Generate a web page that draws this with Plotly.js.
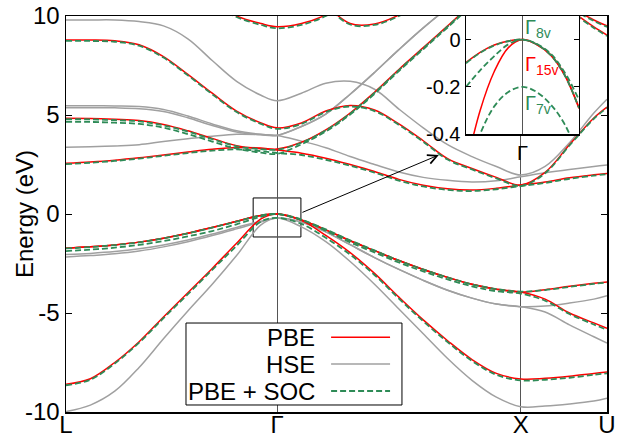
<!DOCTYPE html>
<html>
<head>
<meta charset="utf-8">
<script src="https://cdn.plot.ly/plotly-3.0.1.min.js"></script>
<style>
  html, body { margin: 0; padding: 0; background: #fff; }
  #plot { width: 628px; height: 435px; }
</style>
</head>
<body>
<div id="plot"></div>
<script>
// k-path L - Gamma - X - U (path length), shared by every band
var k = [0, 0.1, 0.2, 0.3, 0.4, 0.5, 0.6, 0.7, 0.8, 0.866,
         0.966, 1.066, 1.166, 1.266, 1.366, 1.466, 1.566, 1.666, 1.766, 1.866,
         1.966, 2.066, 2.166, 2.22];
var kTicks = [0, 0.866, 1.866, 2.22];
var kLabels = ["L", "Γ", "X", "U"];
var eTicks = [-10, -5, 0, 5, 10];
var eLabels = ["-10", "-5", "0", "5", "10"];

// PBE bands (eV)
var pbeV1 = [-8.6, -8.32, -7.5, -6.45, -5.2, -3.98, -2.75, -1.48, -0.25, 0, -0.32, -1.08, -1.95, -3.0, -4.2, -5.35, -6.4, -7.35, -8.05, -8.33, -8.3, -8.2, -8.05, -7.98];
var pbeV2 = [-1.73, -1.66, -1.56, -1.42, -1.22, -0.97, -0.68, -0.37, -0.07, 0, -0.3, -0.8, -1.35, -1.85, -2.35, -2.8, -3.2, -3.55, -3.8, -3.94, -3.82, -3.65, -3.5, -3.43];
var pbeV3 = [-1.73, -1.66, -1.56, -1.42, -1.22, -0.97, -0.68, -0.37, -0.07, 0, -0.3, -0.8, -1.35, -1.85, -2.35, -2.8, -3.2, -3.55, -3.8, -3.94, -4.3, -5.0, -5.5, -5.77];
var pbeC1 = [2.56, 2.63, 2.72, 2.84, 2.98, 3.13, 3.27, 3.36, 3.33, 3.23, 3.07, 2.82, 2.5, 2.15, 1.75, 1.45, 1.27, 1.21, 1.3, 1.46, 1.62, 1.83, 1.98, 2.05];
var pbeC2 = [4.83, 4.82, 4.78, 4.72, 4.52, 4.2, 3.82, 3.45, 3.3, 3.28, 3.62, 4.25, 5.1, 6.15, 7.3, 8.4, 9.5, 10.6, 11.5, 12.0, null, null, null, null];
var pbeC3 = [8.79, 8.79, 8.75, 8.55, 7.95, 7.05, 6.1, 5.2, 4.6, 4.35, 4.6, 5.2, 5.48, 5.25, 4.55, 3.7, 2.8, 2.3, 1.85, 1.46, 2.1, 3.5, 4.85, 5.4];
var pbeC4 = [null, null, null, null, null, null, 10.7, 10.0, 9.62, 9.46, 9.62, 10.05, 10.8, null, null, null, null, null, null, null, null, null, null, null];
var pbeC5 = [null, null, null, null, null, null, null, null, null, null, null, 10.6, 9.62, 9.6, 10.05, 10.8, null, null, null, null, null, null, null, null];
var pbeC6 = [null, null, null, null, null, null, null, null, null, null, null, null, null, null, null, null, null, null, null, 11.6, 11.0, 10.3, 9.45, 9.04];
var pbeC7 = [null, null, null, null, null, null, null, null, null, null, null, null, null, null, null, null, null, null, null, 12.2, 11.5, 10.5, 9.8, 9.5];

// HSE bands (eV)
var hseV1 = [-9.98, -9.65, -8.95, -7.75, -6.3, -4.9, -3.55, -2.1, -0.55, -0.2, -0.65, -1.4, -2.4, -3.55, -4.8, -6.05, -7.3, -8.4, -9.25, -9.73, -9.7, -9.6, -9.45, -9.3];
var hseV2 = [-2.05, -1.99, -1.9, -1.76, -1.56, -1.31, -1.01, -0.68, -0.36, -0.2, -0.4, -0.9, -1.55, -2.2, -2.8, -3.35, -3.85, -4.25, -4.55, -4.68, -4.65, -4.5, -4.3, -4.13];
var hseV3 = [-2.17, -2.1, -2.01, -1.87, -1.66, -1.4, -1.09, -0.75, -0.4, -0.2, -0.4, -0.9, -1.55, -2.2, -2.8, -3.35, -3.85, -4.25, -4.55, -4.68, -4.95, -5.6, -6.2, -6.52];
var hseC1 = [3.37, 3.4, 3.44, 3.5, 3.66, 3.8, 3.93, 4.03, 4.01, 3.97, 3.68, 3.35, 2.9, 2.5, 2.12, 1.85, 1.7, 1.62, 1.68, 1.88, 2.08, 2.25, 2.4, 2.47];
var hseC2 = [5.47, 5.47, 5.46, 5.43, 5.28, 4.95, 4.55, 4.2, 4.03, 3.98, 4.42, 5.05, 6.05, 7.15, 8.3, 9.4, 10.4, 11.3, null, null, null, null, null, null];
var hseC3 = [5.37, 5.37, 5.36, 5.32, 5.18, 4.86, 4.47, 4.14, 4.0, 3.97, 4.42, 5.05, 6.05, 7.15, 8.3, 9.4, 10.4, 11.3, null, null, null, null, null, null];
var hseC4 = [9.8, 9.8, 9.8, 9.72, 9.5, 8.85, 7.75, 6.7, 6.0, 5.72, 6.1, 6.6, 6.7, 6.3, 5.3, 4.35, 3.5, 2.9, 2.4, 1.97, 2.4, 3.6, 5.1, 5.8];

// PBE + SOC bands (eV)
var socV1 = [-8.65, -8.37, -7.55, -6.5, -5.26, -4.05, -2.82, -1.6, -0.38, -0.2, -0.5, -1.2, -2.05, -3.08, -4.27, -5.42, -6.47, -7.42, -8.12, -8.4, -8.37, -8.27, -8.12, -8.05];
var socV2 = [-1.74, -1.67, -1.57, -1.43, -1.23, -0.98, -0.69, -0.38, -0.07, 0, -0.3, -0.78, -1.33, -1.84, -2.35, -2.8, -3.2, -3.55, -3.79, -3.92, -3.84, -3.68, -3.53, -3.46];
var socV3 = [-1.87, -1.8, -1.7, -1.56, -1.37, -1.13, -0.86, -0.52, -0.14, 0, -0.28, -0.85, -1.43, -1.94, -2.45, -2.9, -3.3, -3.65, -3.9, -4.02, -4.38, -5.05, -5.58, -5.85];
var socC1 = [2.52, 2.59, 2.68, 2.8, 2.94, 3.08, 3.2, 3.26, 3.18, 3.08, 2.98, 2.74, 2.44, 2.09, 1.69, 1.39, 1.22, 1.16, 1.25, 1.41, 1.57, 1.78, 1.94, 2.01];
var socC2 = [4.79, 4.78, 4.74, 4.68, 4.48, 4.16, 3.78, 3.42, 3.28, 3.25, 3.6, 4.22, 5.07, 6.12, 7.27, 8.37, 9.47, 10.57, 11.47, 11.97, null, null, null, null];
var socC3 = [4.66, 4.65, 4.61, 4.55, 4.36, 4.04, 3.66, 3.3, 3.1, 3.04, 3.52, 4.17, 5.02, 6.07, 7.22, 8.32, 9.42, 10.52, 11.42, 11.92, null, null, null, null];
var socC4 = [8.74, 8.74, 8.7, 8.5, 7.9, 7.0, 6.05, 5.15, 4.55, 4.3, 4.55, 5.15, 5.43, 5.2, 4.5, 3.65, 2.75, 2.25, 1.8, 1.42, 2.06, 3.46, 4.81, 5.36];
var socC5 = [null, null, null, null, null, null, 10.65, 9.95, 9.55, 9.38, 9.55, 10.0, 10.75, null, null, null, null, null, null, null, null, null, null, null];
var socC6 = [null, null, null, null, null, null, null, null, null, null, null, 10.55, 9.57, 9.55, 10.0, 10.75, null, null, null, null, null, null, null, null];
var socC7 = [null, null, null, null, null, null, null, null, null, null, null, null, null, null, null, null, null, null, null, 11.55, 10.95, 10.25, 9.4, 8.99];
var socC8 = [null, null, null, null, null, null, null, null, null, null, null, null, null, null, null, null, null, null, null, 12.15, 11.45, 10.45, 9.75, 9.45];

// inset: valence top around Gamma
var kInset = [-0.1, -0.075, -0.05, -0.025, 0, 0.025, 0.05, 0.075, 0.1];
var insetPbe1 = [-0.097, -0.054, -0.023, -0.006, 0, -0.02, -0.064, -0.15, -0.288];
var insetPbe2 = [-0.54, -0.3, -0.135, -0.034, 0, -0.021, -0.066, -0.153, -0.292];
var insetSocHH = [-0.1, -0.056, -0.025, -0.007, 0, -0.02, -0.066, -0.152, -0.29];
var insetSocLH = [-0.2, -0.13, -0.07, -0.02, 0, -0.018, -0.06, -0.14, -0.255];
var insetSocSO = [-0.57, -0.4, -0.283, -0.222, -0.2, -0.222, -0.275, -0.36, -0.5];

var RED = "#ff0000", GRAY = "#a0a0a0", GREEN = "#2e8b57";
var DASH = "6px,3px";

function band(xs, ys, color, dash, width, xa, ya) {
  return {
    x: xs, y: ys, type: "scatter", mode: "lines",
    line: {color: color, width: width, dash: dash, shape: "spline"},
    xaxis: xa, yaxis: ya, showlegend: false, hoverinfo: "skip"
  };
}

var hse = [hseV1, hseV2, hseV3, hseC1, hseC2, hseC3, hseC4];
var pbe = [pbeV1, pbeV2, pbeV3, pbeC1, pbeC2, pbeC3, pbeC4, pbeC5, pbeC6, pbeC7];
var soc = [socV1, socV2, socV3, socC1, socC2, socC3, socC4, socC5, socC6, socC7, socC8];

var data = [];
hse.forEach(b => data.push(band(k, b, GRAY, "solid", 1.5, "x", "y")));
pbe.forEach(b => data.push(band(k, b, RED, "solid", 1.5, "x", "y")));
soc.forEach(b => data.push(band(k, b, GREEN, DASH, 1.8, "x", "y")));

[insetPbe1, insetPbe2].forEach(b => data.push(band(kInset, b, RED, "solid", 1.5, "x2", "y2")));
[insetSocHH, insetSocLH, insetSocSO].forEach(b => data.push(band(kInset, b, GREEN, DASH, 1.8, "x2", "y2")));

var font = {family: "Liberation Sans, Arial, sans-serif", size: 24, color: "#000"};

var layout = {
  width: 628, height: 435,
  margin: {l: 66, r: 21, t: 16, b: 23},
  paper_bgcolor: "#fff", plot_bgcolor: "#fff",
  font: font,
  showlegend: false,
  xaxis: {
    range: [0, 2.22], tickvals: kTicks, ticktext: kLabels, ticks: "",
    showgrid: true, gridcolor: "#555", gridwidth: 1, zeroline: false,
    showline: true, mirror: true, linecolor: "#000", linewidth: 1.5,
    tickfont: {size: 24}, ticklabelstandoff: -9
  },
  yaxis: {
    range: [-10, 10], tickvals: eTicks, ticktext: eLabels,
    ticks: "inside", ticklen: 6, tickcolor: "#000", mirror: "allticks",
    showgrid: false, zeroline: false,
    showline: true, linecolor: "#000", linewidth: 1.5,
    tickfont: {size: 24}
  },
  xaxis2: {
    domain: [0.7394, 0.9482], anchor: "y2", range: [-0.1, 0.1],
    tickvals: [0], ticktext: ["Γ"], ticks: "",
    showgrid: true, gridcolor: "#555", zeroline: false,
    showline: true, mirror: true, linecolor: "#000", linewidth: 1.5,
    tickfont: {size: 20}
  },
  yaxis2: {
    domain: [0.702, 1], anchor: "x2", range: [-0.4, 0.1],
    tickvals: [0, -0.2, -0.4], ticktext: ["0", "-0.2", "-0.4"],
    ticks: "inside", ticklen: 5, tickcolor: "#000", mirror: "allticks",
    showgrid: false, zeroline: false,
    showline: true, linecolor: "#000", linewidth: 1.5,
    tickfont: {size: 20}
  },
  shapes: [
    {type: "rect", xref: "x", yref: "y", x0: 0.768, x1: 0.964, y0: -1.16, y1: 0.81,
     fillcolor: "#fff", line: {color: "#000", width: 1}, layer: "below"},
    {type: "rect", xref: "paper", yref: "paper", x0: 0.2218, x1: 0.621, y0: 0.0177, y1: 0.2247,
     fillcolor: "#fff", line: {color: "#000", width: 1}, layer: "above"},
    {type: "line", xref: "paper", yref: "paper", x0: 0.49, x1: 0.599, y0: 0.189, y1: 0.189,
     line: {color: RED, width: 1.5}, layer: "above"},
    {type: "line", xref: "paper", yref: "paper", x0: 0.49, x1: 0.599, y0: 0.121, y1: 0.121,
     line: {color: GRAY, width: 1.5}, layer: "above"},
    {type: "line", xref: "paper", yref: "paper", x0: 0.49, x1: 0.599, y0: 0.053, y1: 0.053,
     line: {color: GREEN, width: 1.8, dash: DASH}, layer: "above"}
  ],
  annotations: [
    {xref: "paper", yref: "paper", x: -0.0776, y: 0.5, xanchor: "center", yanchor: "middle",
     textangle: -90, text: "Energy (eV)", showarrow: false, font: {size: 24}},
    {xref: "paper", yref: "paper", x: 0.464, y: 0.189, xanchor: "right", yanchor: "middle",
     text: "PBE", showarrow: false, font: {size: 24}},
    {xref: "paper", yref: "paper", x: 0.464, y: 0.121, xanchor: "right", yanchor: "middle",
     text: "HSE", showarrow: false, font: {size: 24}},
    {xref: "paper", yref: "paper", x: 0.464, y: 0.053, xanchor: "right", yanchor: "middle",
     text: "PBE + SOC", showarrow: false, font: {size: 24}},
    {xref: "x", yref: "y", x: 1.53, y: 2.98, axref: "x", ayref: "y", ax: 0.964, ay: 0.05,
     text: "", showarrow: true, arrowhead: 5, arrowsize: 1.8, arrowwidth: 1, arrowcolor: "#000",
     standoff: 0, startstandoff: 0},
    {xref: "x2", yref: "y2", x: 0.001, y: 0.045, xanchor: "left", yanchor: "middle",
     text: "Γ<sub>8v</sub>", showarrow: false, font: {size: 20, color: GREEN}},
    {xref: "x2", yref: "y2", x: 0.001, y: -0.11, xanchor: "left", yanchor: "middle",
     text: "Γ<sub>15v</sub>", showarrow: false, font: {size: 20, color: RED}},
    {xref: "x2", yref: "y2", x: 0.001, y: -0.275, xanchor: "left", yanchor: "middle",
     text: "Γ<sub>7v</sub>", showarrow: false, font: {size: 20, color: GREEN}}
  ]
};

Plotly.newPlot("plot", data, layout, {staticPlot: true});
</script>
</body>
</html>
